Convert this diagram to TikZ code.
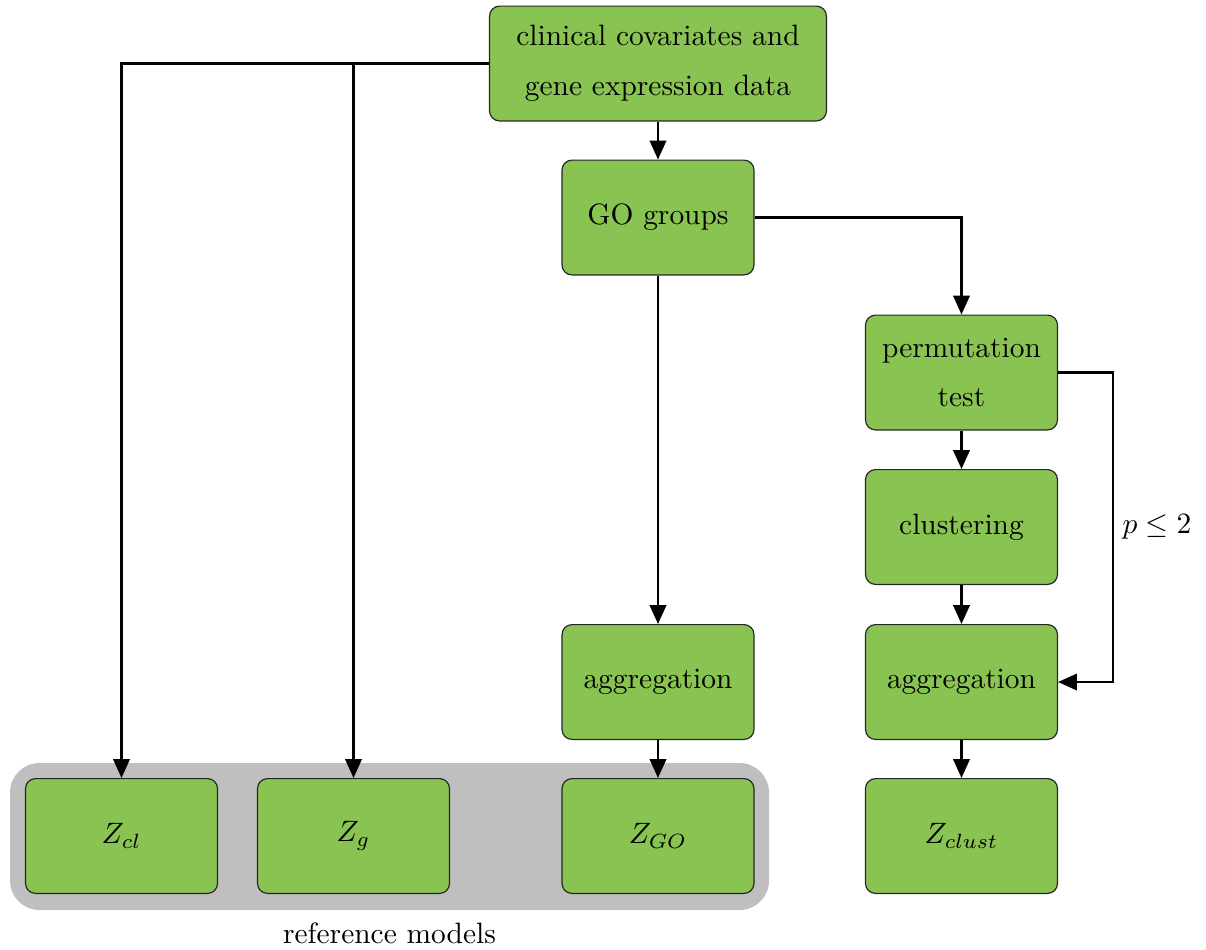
\documentclass[tikz,border=0pt]{standalone}
\usetikzlibrary{arrows.meta}
\definecolor{boxgreen}{RGB}{137,196,82}
\begin{document}
\begin{tikzpicture}[x=0.3396pt,y=-0.3396pt,
  box/.style={draw=black!85, fill=boxgreen, line width=0.4pt, rounded corners=3.4pt,
    minimum width=65.2pt, minimum height=39pt, inner sep=0pt, align=center,
    font=\fontsize{10}{16.8}\selectfont},
  conn/.style={line width=0.7pt, -{Triangle[length=6.4pt,width=5.6pt]}},
  plain/.style={line width=0.7pt}]
\useasboundingbox (0,0) rectangle (1206,949);
\fill[black!25, rounded corners=10pt] (10,763) rectangle (769,910);
\node[box, minimum width=114.4pt] (top) at (658,63.5) {clinical covariates and\\gene expression data};
\node[box] (go) at (658,217.5) {GO groups};
\node[box] (perm) at (961.5,372.5) {permutation\\test};
\node[box] (clus) at (961.5,527) {clustering};
\node[box] (aggR) at (961.5,682) {aggregation};
\node[box] (aggL) at (658,682) {aggregation};
\node[box] (zcl) at (121.5,836) {$Z_{cl}$};
\node[box] (zg) at (353.5,836) {$Z_g$};
\node[box] (zgo) at (658,836) {$Z_{GO}$};
\node[box] (zclust) at (961.5,836) {$Z_{clust}$};
\node (refl) at (389.5,933) {reference models};
\coordinate (pr) at (1113,372.5);
\node (plab) at (1157,527) {$p \leq 2$};
\draw[conn] (top.west) -| (zcl.north);
\draw[conn] (top.west) -| (zg.north);
\draw[conn] (top) -- (go);
\draw[conn] (go.east) -| (perm.north);
\draw[conn] (go) -- (aggL);
\draw[conn] (aggL) -- (zgo);
\draw[conn] (perm) -- (clus);
\draw[conn] (clus) -- (aggR);
\draw[conn] (aggR) -- (zclust);
\draw[conn] (perm.east) -- (pr) |- (aggR.east);
\end{tikzpicture}
\end{document}
